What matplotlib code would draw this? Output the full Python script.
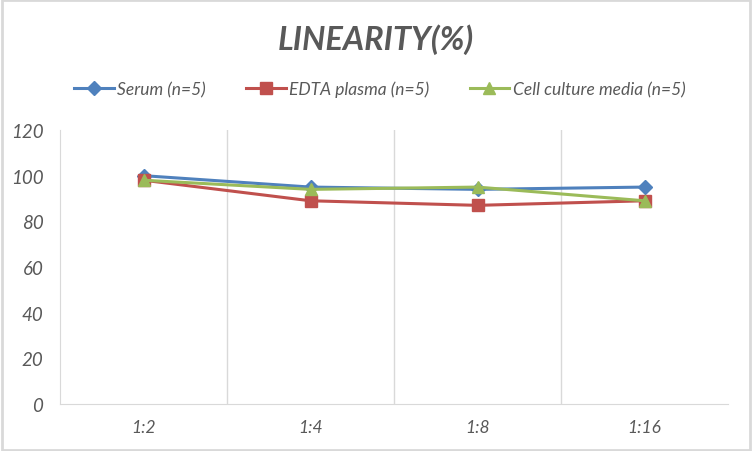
import numpy as np
import matplotlib.pyplot as plt

dilutions = ["1:2", "1:4", "1:8", "1:16"]
serum = [100, 95, 94, 95]
edta = [98, 89, 87, 89]
cell = [98, 94, 95, 89]
yticks = [0, 20, 40, 60, 80, 100, 120]

txt = "#595959"
fnt = "Lato"

fig = plt.figure(figsize=(7.52, 4.52), dpi=100)
ax = fig.add_axes([60 / 752, 1 - 405 / 452, 668 / 752, 274 / 452])

x = np.arange(len(dilutions))
ax.plot(x, serum, color="#4F81BD", lw=2.2, marker="D", ms=7, label="Serum (n=5)")
ax.plot(x, edta, color="#C0504D", lw=2.2, marker="s", ms=8, label="EDTA plasma (n=5)")
ax.plot(x, cell, color="#9BBB59", lw=2.2, marker="^", ms=9, label="Cell culture media (n=5)")

ax.set_xlim(-0.5, len(dilutions) - 0.5)
ax.set_ylim(0, 120)
ax.set_yticks(yticks)
ax.set_yticklabels([str(v) for v in yticks], fontstyle="italic", fontsize=13.5, color=txt, family=fnt)
ax.set_xticks(x)
ax.set_xticklabels(dilutions, fontstyle="italic", fontsize=12.5, color=txt, family=fnt)
ax.tick_params(length=0)
ax.tick_params(axis="x", pad=11)
ax.tick_params(axis="y", pad=12)

# category boundary gridlines
for b in x[:-1] + 0.5:
    ax.axvline(b, color="#d9d9d9", lw=1, zorder=0)

for s in ["top", "right"]:
    ax.spines[s].set_visible(False)
ax.spines["left"].set_color("#d9d9d9")
ax.spines["bottom"].set_color("#d9d9d9")

fig.text(0.5, 1 - 40 / 452, "LINEARITY(%)", ha="center", va="center", fontsize=23.5,
         fontweight="bold", fontstyle="italic", color=txt, family=fnt)

leg = fig.legend(loc="center", bbox_to_anchor=(0.505, 1 - 90 / 452), ncol=3, frameon=False,
                 prop={"family": fnt, "style": "italic", "size": 12.5}, handlelength=2.3,
                 columnspacing=2.3, handletextpad=0.2)
for t in leg.get_texts():
    t.set_color(txt)

# light frame around the figure
fig.patches.append(plt.Rectangle((0.002, 0.003), 0.996, 0.994, transform=fig.transFigure,
                                 fill=False, edgecolor="#d9d9d9", lw=2))

fig.savefig("out.png", dpi=100)
